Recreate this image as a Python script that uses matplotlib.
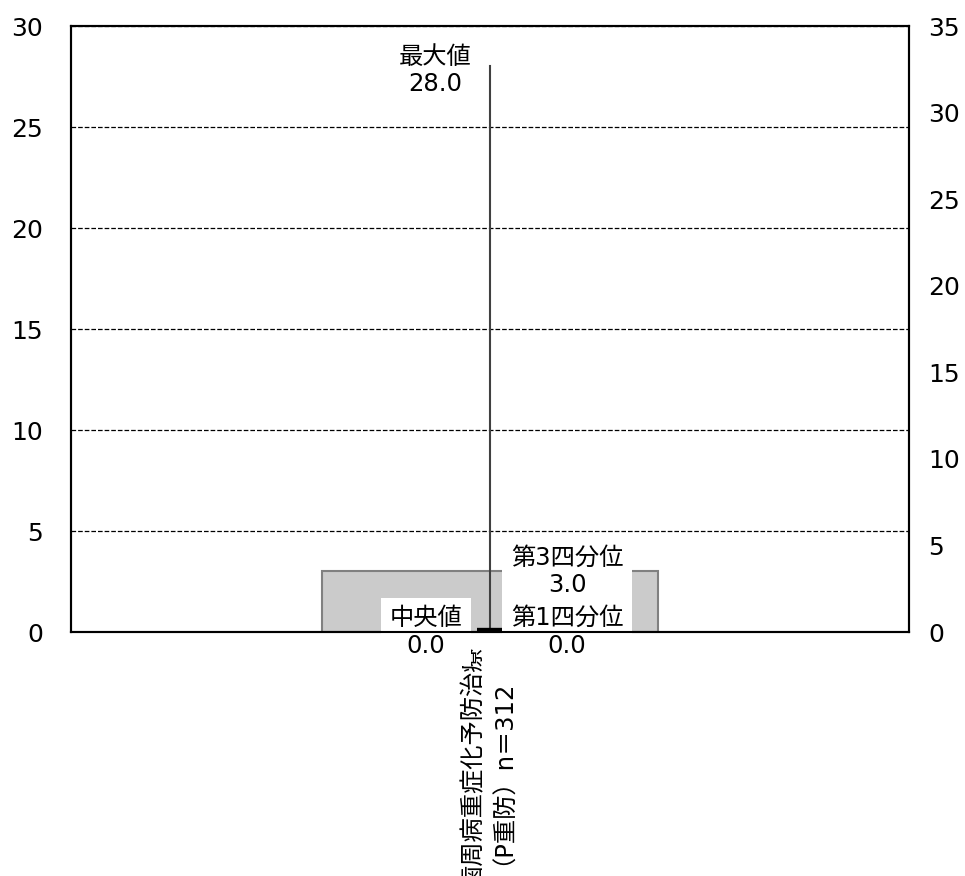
import matplotlib
matplotlib.use('Agg')
import matplotlib.pyplot as plt
import matplotlib.transforms as mtransforms

plt.rcParams['font.family'] = ['DejaVu Sans', 'Noto Sans CJK JP']

# Data
category = '歯周病重症化予防治療\n（P重防）n＝312'
q1 = 0.0
median = 0.0
q3 = 3.0
max_val = 28.0
left_ticks = [0, 5, 10, 15, 20, 25, 30]
right_ticks = [0, 5, 10, 15, 20, 25, 30, 35]

fig = plt.figure(figsize=(9.65, 8.76), dpi=100)
ax = fig.add_axes([0.0736, 0.2785, 0.8684, 0.6918])
fs = 17.5

center = 1.0
half_w = 0.401

# Box
ax.bar(center, q3 - q1, bottom=q1, width=2 * half_w, color='#cbcbcb',
       edgecolor='#808080', linewidth=1.5, zorder=2)
# Whisker
ax.plot([center, center], [q1, max_val], color='#404040', lw=1.5, zorder=3)
# Median bar
ax.plot([center - 0.031, center + 0.031], [median, median], color='black',
        lw=6, solid_capstyle='butt', zorder=4)

ax.set_xlim(0, 2)
ax.set_ylim(0, 30)
ax.set_yticks(left_ticks)
ax.set_xticks([center])
ax.set_xticklabels([''])
ax.tick_params(axis='x', length=0)
ax.tick_params(axis='y', length=0, pad=20, labelsize=18)
ax.yaxis.grid(True, linestyle='--', color='black', lw=0.9)
ax.set_axisbelow(True)
for s in ax.spines.values():
    s.set_linewidth(1.5)
    s.set_color('black')

# category label, rotated, two lines drawn separately to keep them close
trans = mtransforms.blended_transform_factory(ax.transData, ax.transAxes)
for i, line in enumerate(category.split('\n')):
    ax.text(center - 0.04 + i * 0.042, -0.222, line, rotation=90,
            ha='center', va='center', fontsize=fs, transform=trans,
            clip_on=False)

ax2 = ax.twinx()
ax2.set_ylim(0, 35)
ax2.set_yticks(right_ticks)
ax2.tick_params(axis='y', length=0, pad=14, labelsize=18)
for s in ax2.spines.values():
    s.set_linewidth(1.5)

box = dict(facecolor='white', edgecolor='none', boxstyle='square,pad=0.35')
ax.text(0.869, max_val - 0.2, f'最大値\n{max_val:.1f}', ha='center', va='center',
        fontsize=fs, linespacing=1.2, zorder=5)
ax.text(1.184, q3, f'第3四分位\n{q3:.1f}', ha='center', va='center',
        fontsize=fs, linespacing=1.2, bbox=box, zorder=5)
ax.text(1.184, q1, f'第1四分位\n{q1:.1f}', ha='center', va='center',
        fontsize=fs, linespacing=1.2, bbox=box, zorder=5)
ax.text(0.847, median, f'中央値\n{median:.1f}', ha='center', va='center',
        fontsize=fs, linespacing=1.2, bbox=box, zorder=5, clip_on=False)

fig.savefig('out.png', dpi=100)
